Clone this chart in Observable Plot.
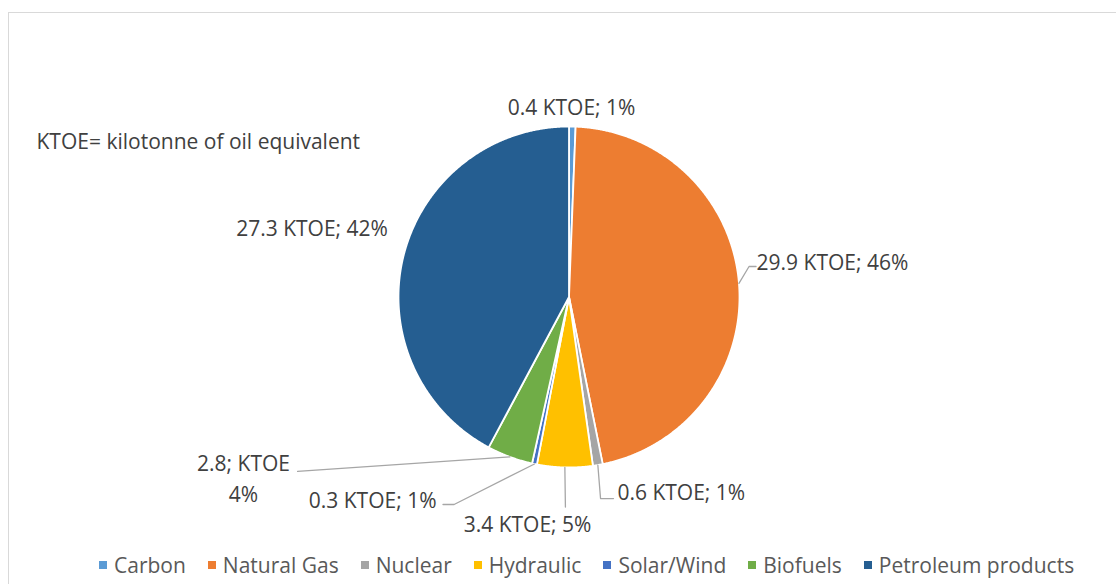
<!DOCTYPE html>
<html><head><meta charset="utf-8">
<script src="https://cdn.jsdelivr.net/npm/d3@7"></script>
<script src="https://cdn.jsdelivr.net/npm/@observablehq/plot@0.6"></script>
<style>
body{margin:0;background:#fff;font-family:"Open Sans", "Liberation Sans", sans-serif;}
#wrap{position:relative;width:1116px;height:584px;overflow:hidden;background:#fff;}
#frame{position:absolute;left:8px;top:12px;width:1200px;height:700px;border-left:1.5px solid #d9d9d9;border-top:1.5px solid #d9d9d9;}
#chart{position:absolute;left:0;top:0;}
#legend{position:absolute;left:99px;top:548px;height:34px;display:flex;align-items:center;gap:22px;font-size:21px;color:#595959;white-space:nowrap;}
.item{display:flex;align-items:center;}
.sw{width:8px;height:8px;margin-right:7px;}
</style></head>
<body>
<div id="wrap"><div id="frame"></div><div id="chart"></div><div id="legend"></div></div>
<script>
// ---- data ----
const categories = ["Carbon","Natural Gas","Nuclear","Hydraulic","Solar/Wind","Biofuels","Petroleum products"];
const values = [0.4, 29.9, 0.6, 3.4, 0.3, 2.8, 27.3];
const percents = [1, 46, 1, 5, 1, 4, 42];
const labelTexts = ["0.4 KTOE; 1%","29.9 KTOE; 46%","0.6 KTOE; 1%","3.4 KTOE; 5%","0.3 KTOE; 1%","2.8; KTOE\n4%","27.3 KTOE; 42%"];
const colors = ["#5B9BD5","#ED7D31","#A5A5A5","#FFC000","#4472C4","#70AD47","#255E91"];
const note = "KTOE= kilotonne of oil equivalent";

// ---- layout (pie units, radius = 1) ----
const labelLayout = {
  "Carbon":            {u: 0.015, v: 1.111, anchor: "middle", leader: []},
  "Natural Gas":       {u: 1.100, v: 0.197, anchor: "start",  leader: [[1.056, 0.179],[1.097, 0.179]]},
  "Nuclear":           {u: 0.284, v:-1.147, anchor: "start",  leader: [[0.185,-1.182],[0.261,-1.182]]},
  "Hydraulic":         {u:-0.243, v:-1.340, anchor: "middle", leader: [[-0.021,-1.232]]},
  "Solar/Wind":        {u:-0.777, v:-1.194, anchor: "end",    leader: [[-0.674,-1.217],[-0.739,-1.217]]},
  "Biofuels":          {u:-1.909, v:-1.073, anchor: "middle", leader: [[-1.592,-1.023]]},
  "Petroleum products":{u:-1.507, v: 0.396, anchor: "middle", leader: []}
};

const arcs = d3.pie().sort(null).value(d => d)(values);
const polar = (a, r) => ({u: r * Math.sin(a), v: r * Math.cos(a)});

const slicePts = [];
arcs.forEach((a, i) => {
  slicePts.push({name: categories[i], ...polar(0, 0)});
  const n = Math.max(2, Math.ceil((a.endAngle - a.startAngle) / 0.005));
  for (let k = 0; k <= n; k++) {
    const ang = a.startAngle + (a.endAngle - a.startAngle) * k / n;
    slicePts.push({name: categories[i], ...polar(ang, 1)});
  }
});

const leaderPts = [];
const labels = [];
arcs.forEach((a, i) => {
  const L = labelLayout[categories[i]];
  const mid = (a.startAngle + a.endAngle) / 2;
  labels.push({name: categories[i], text: labelTexts[i], value: values[i], pct: percents[i], u: L.u, v: L.v, anchor: L.anchor});
  if (L.leader.length) {
    leaderPts.push({name: categories[i], ...polar(mid, 1.0)});
    L.leader.forEach(([u, v]) => leaderPts.push({name: categories[i], u, v}));
  }
});

const FONT = "'Open Sans', 'Liberation Sans', sans-serif";
const chart = Plot.plot({
  width: 1116, height: 548,
  margin: 0,
  x: {domain: [-1, 1], range: [398, 739], axis: null},
  y: {domain: [-1, 1], range: [467, 126], axis: null},
  color: {domain: categories, range: colors},
  style: {background: "transparent", fontFamily: FONT},
  marks: [
    Plot.line(slicePts, {x: "u", y: "v", z: "name", fill: "name", stroke: "white", strokeWidth: 1.8, curve: "linear-closed"}),
    Plot.line(leaderPts, {x: "u", y: "v", z: "name", stroke: "#A6A6A6", strokeWidth: 1.3}),
    ...["start", "middle", "end"].map(anc =>
      Plot.text(labels.filter(d => d.anchor === anc), {x: "u", y: "v", text: "text", textAnchor: anc, fontSize: 21, fill: "#404040", lineHeight: 1.48, dy: -3})
    ),
    Plot.text([note], {frameAnchor: "top-left", dx: 36, dy: 134, text: d => d, fontSize: 21, fill: "#404040"})
  ]
});
document.getElementById("chart").appendChild(chart);

const legend = document.getElementById("legend");
categories.forEach((c, i) => {
  const it = document.createElement("div"); it.className = "item";
  const sw = document.createElement("div"); sw.className = "sw"; sw.style.background = colors[i];
  const tx = document.createElement("span"); tx.textContent = c;
  it.appendChild(sw); it.appendChild(tx); legend.appendChild(it);
});
</script>
</body></html>
